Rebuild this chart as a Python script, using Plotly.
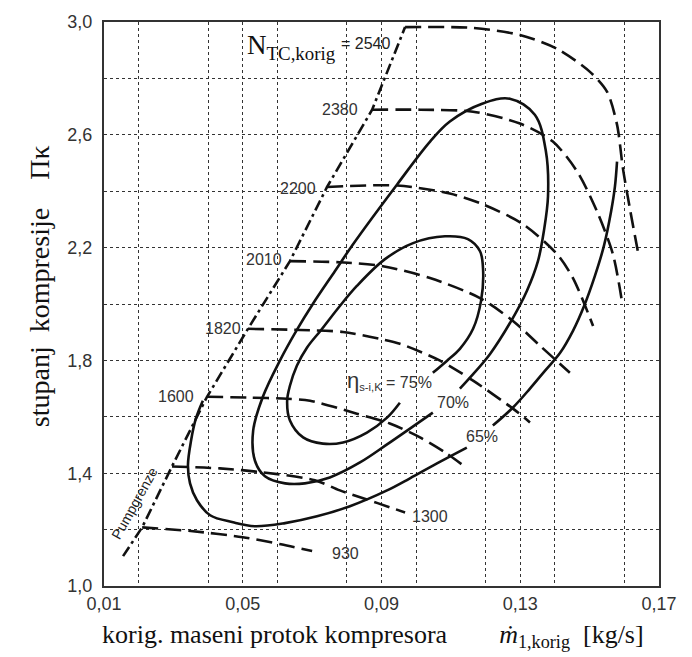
import plotly.graph_objects as go

# corrected mass flow [kg/s] and pressure ratio
surge_x = [0.0155, 0.021, 0.0296, 0.0397, 0.0515, 0.0636, 0.0743, 0.0873, 0.0968]
surge_y = [1.106, 1.208, 1.424, 1.671, 1.912, 2.152, 2.415, 2.689, 2.982]

n930_x = [0.021, 0.035, 0.050, 0.061, 0.070]
n930_y = [1.208, 1.195, 1.173, 1.148, 1.124]
n1300_x = [0.0296, 0.0434, 0.0558, 0.0708, 0.0780, 0.0858, 0.0924, 0.0968]
n1300_y = [1.424, 1.417, 1.403, 1.375, 1.339, 1.307, 1.279, 1.261]
n1600_x = [0.0397, 0.0521, 0.0628, 0.0694, 0.0829, 0.0924, 0.1011, 0.1083, 0.1135]
n1600_y = [1.671, 1.668, 1.664, 1.657, 1.611, 1.576, 1.527, 1.474, 1.428]
n1820_x = [0.0515, 0.0665, 0.0789, 0.0896, 0.0953, 0.1069, 0.1164, 0.1279, 0.1328]
n1820_y = [1.912, 1.908, 1.901, 1.876, 1.859, 1.799, 1.728, 1.629, 1.580]
n2010_x = [0.0636, 0.0780, 0.0904, 0.1040, 0.1184, 0.1279, 0.1357, 0.1443]
n2010_y = [2.152, 2.148, 2.134, 2.092, 2.021, 1.940, 1.852, 1.756]
n2200_x = [0.0743, 0.0945, 0.1097, 0.1193, 0.1308, 0.1406, 0.1452, 0.1510]
n2200_y = [2.415, 2.420, 2.392, 2.353, 2.283, 2.177, 2.092, 1.922]
n2380_x = [0.0873, 0.1011, 0.1164, 0.1299, 0.1394, 0.1464, 0.1521, 0.1567, 0.1593]
n2380_y = [2.689, 2.689, 2.682, 2.640, 2.576, 2.470, 2.329, 2.177, 2.011]
n2540_x = [0.0968, 0.1164, 0.1299, 0.1406, 0.1501, 0.1550, 0.1579, 0.1596, 0.1616, 0.1639]
n2540_y = [2.982, 2.979, 2.954, 2.905, 2.823, 2.753, 2.636, 2.481, 2.339, 2.187]

speed_lines = [
    (n930_x, n930_y), (n1300_x, n1300_y), (n1600_x, n1600_y), (n1820_x, n1820_y),
    (n2010_x, n2010_y), (n2200_x, n2200_y), (n2380_x, n2380_y), (n2540_x, n2540_y),
]

# efficiency contours
eta75_x = [0.0953, 0.0916, 0.0858, 0.0789, 0.0731, 0.0674, 0.0636, 0.0628, 0.0636, 0.0656,
           0.0685, 0.0726, 0.0780, 0.0829, 0.0910, 0.0991, 0.1083, 0.1149, 0.1184, 0.1193,
           0.1187, 0.1164, 0.1126, 0.1089, 0.1048]
eta75_y = [1.650, 1.597, 1.544, 1.509, 1.505, 1.527, 1.587, 1.657, 1.710, 1.781,
           1.845, 1.908, 1.993, 2.064, 2.159, 2.216, 2.240, 2.230, 2.187, 2.117,
           2.011, 1.912, 1.841, 1.799, 1.756]
eta70_x = [0.1126, 0.1155, 0.1213, 0.1279, 0.1319, 0.1351, 0.1368, 0.1380, 0.1374, 0.1342,
           0.1270, 0.1190, 0.1097, 0.1040, 0.0945, 0.0818, 0.0766, 0.0702, 0.0656, 0.0607,
           0.0558, 0.0530, 0.0535, 0.0564, 0.0622, 0.0679, 0.0751, 0.0838, 0.0916, 0.0982, 0.1048]
eta70_y = [1.700, 1.739, 1.823, 1.951, 2.046, 2.152, 2.258, 2.382, 2.541, 2.671,
           2.728, 2.710, 2.647, 2.576, 2.424, 2.212, 2.117, 2.000, 1.908, 1.799,
           1.671, 1.551, 1.445, 1.389, 1.364, 1.364, 1.385, 1.438, 1.502, 1.558, 1.615]
eta65_low_x = [0.1146, 0.1060, 0.0982, 0.0916, 0.0809, 0.0714, 0.0622, 0.0535, 0.0472, 0.0406,
               0.0368, 0.0348, 0.0342, 0.0351, 0.0365, 0.0385]
eta65_low_y = [1.491, 1.435, 1.382, 1.339, 1.283, 1.247, 1.223, 1.212, 1.226, 1.251,
               1.304, 1.364, 1.428, 1.516, 1.594, 1.657]
eta65_up_x = [0.1221, 0.1279, 0.1328, 0.1371, 0.1415, 0.1452, 0.1484, 0.1515, 0.1541, 0.1562, 0.1573, 0.1579]
eta65_up_y = [1.569, 1.633, 1.700, 1.763, 1.827, 1.905, 1.993, 2.099, 2.205, 2.329, 2.417, 2.505]

# speed labels: text, x, y, anchor
speed_labels = [
    ("930", 0.0752, 1.117, "left"),
    ("1300", 0.0982, 1.247, "left"),
    ("1600", 0.0366, 1.671, "right"),
    ("1820", 0.0501, 1.912, "right"),
    ("2010", 0.0619, 2.159, "right"),
    ("2200", 0.0717, 2.410, "right"),
    ("2380", 0.0838, 2.689, "right"),
]

SANS = "Liberation Sans, Arial, sans-serif"
SERIF = "Liberation Serif, Times New Roman, serif"
INK = "#111111"
NB = "\u00a0"

fig = go.Figure()

fig.add_trace(go.Scatter(x=surge_x, y=surge_y, mode="lines",
                         line=dict(color=INK, width=2.6, dash="11px,4px,3px,4px"),
                         showlegend=False, hoverinfo="skip"))

for sx, sy in speed_lines:
    fig.add_trace(go.Scatter(x=sx, y=sy, mode="lines",
                             line=dict(color=INK, width=2.6, dash="16px,7px", shape="spline", smoothing=0.8),
                             showlegend=False, hoverinfo="skip"))

for ex, ey in [(eta75_x, eta75_y), (eta70_x, eta70_y), (eta65_low_x, eta65_low_y), (eta65_up_x, eta65_up_y)]:
    fig.add_trace(go.Scatter(x=ex, y=ey, mode="lines",
                             line=dict(color=INK, width=2.6, shape="spline", smoothing=1.0),
                             showlegend=False, hoverinfo="skip"))

for txt, lx, ly, anc in speed_labels:
    fig.add_annotation(x=lx, y=ly, text=txt, showarrow=False, xanchor=anc, yanchor="middle",
                       font=dict(family=SANS, size=16, color="#333"))

# N_TC,korig = 2540
fig.add_annotation(x=0.0775, y=2.912, text="N<sub>TC,korig</sub>", showarrow=False,
                   xanchor="right", yanchor="middle", font=dict(family=SERIF, size=27, color=INK))
fig.add_annotation(x=0.0778, y=2.925, text="= 2540", showarrow=False,
                   xanchor="left", yanchor="middle", font=dict(family=SANS, size=16, color="#222"))

# efficiency labels
fig.add_annotation(x=0.1050, y=1.728, text="<span style='font-size:22px'>η</span><sub>s-i,K</sub> = 75%",
                   showarrow=False, xanchor="right", yanchor="middle",
                   font=dict(family=SANS, size=16, color="#333"))
fig.add_annotation(x=0.1105, y=1.650, text="70%", showarrow=False, xanchor="center", yanchor="middle",
                   font=dict(family=SANS, size=16, color="#333"))
fig.add_annotation(x=0.1190, y=1.530, text="65%", showarrow=False, xanchor="center", yanchor="middle",
                   font=dict(family=SANS, size=16, color="#333"))

fig.add_annotation(x=0.0189, y=1.293, text="Pumpgrenze", showarrow=False, textangle=-61,
                   xanchor="center", yanchor="middle", font=dict(family=SANS, size=14, color="#222"))

# axis titles
fig.add_annotation(xref="paper", yref="paper", x=-0.115, y=0.532, textangle=-90, showarrow=False,
                   xanchor="center", yanchor="middle",
                   text="stupanj" + NB * 2 + "kompresije" + NB * 4 + "Πκ",
                   font=dict(family=SERIF, size=28, color=INK))
fig.add_annotation(xref="paper", yref="paper", x=0.485, y=-0.088, showarrow=False,
                   xanchor="center", yanchor="middle",
                   text="korig. maseni protok kompresora" + NB * 8 + "<i>ṁ</i><sub>1,korig</sub>"
                        + NB * 2 + "[kg/s]",
                   font=dict(family=SERIF, size=26, color=INK))

grid = dict(showgrid=True, gridcolor="#333", griddash="dot", gridwidth=1.3)

fig.update_xaxes(range=[0.01, 0.17], tick0=0.01, dtick=0.04, tickformat=".2f", ticks="",
                 minor=dict(dtick=0.02, **grid), **grid,
                 showline=True, mirror=True, linecolor="#333", linewidth=2, zeroline=False,
                 tickfont=dict(family=SANS, size=18, color="#333"))
fig.update_yaxes(range=[1.0, 3.0], tick0=1.0, dtick=0.4, tickformat=".1f", ticks="",
                 minor=dict(dtick=0.2, **grid), **grid,
                 showline=True, mirror=True, linecolor="#333", linewidth=2, zeroline=False,
                 ticklabelstandoff=6,
                 tickfont=dict(family=SANS, size=18, color="#333"))

fig.update_layout(width=692, height=657, margin=dict(l=104, r=33, t=20, b=71),
                  separators=",.", plot_bgcolor="white", paper_bgcolor="white")

fig.write_html("out.html", config={"displayModeBar": False},
               post_script="document.body.style.margin='0';")
